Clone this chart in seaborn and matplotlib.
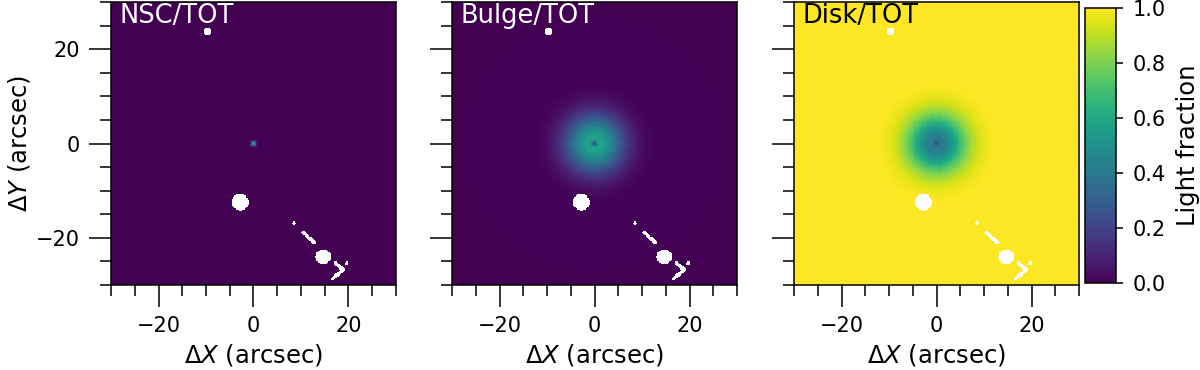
import numpy as np
import seaborn as sns
import matplotlib.pyplot as plt

# radial light fraction profiles (radius in arcsec)
radius = [0, 0.25, 0.5, 0.75, 1, 1.25, 1.5, 2, 2.5, 3, 3.5, 4, 4.5, 5, 5.5, 6, 6.5, 7, 7.5, 8, 8.5, 9, 9.5, 10, 10.5, 11, 11.5, 12, 12.5, 40]
nsc_frac = [0.62, 0.5, 0.25, 0.08, 0.02, 0.01, 0, 0, 0, 0, 0, 0, 0, 0, 0, 0, 0, 0, 0, 0, 0, 0, 0, 0, 0, 0, 0, 0, 0, 0]
bulge_frac = [0.22, 0.27, 0.42, 0.53, 0.57, 0.58, 0.58, 0.56, 0.53, 0.49, 0.45, 0.41, 0.36, 0.31, 0.27, 0.23, 0.19, 0.16, 0.13, 0.105, 0.085, 0.065, 0.05, 0.037, 0.027, 0.019, 0.013, 0.008, 0.004, 0]
disk_frac = [0.12, 0.23, 0.33, 0.39, 0.41, 0.41, 0.42, 0.44, 0.47, 0.51, 0.55, 0.59, 0.64, 0.69, 0.73, 0.77, 0.81, 0.84, 0.87, 0.895, 0.915, 0.935, 0.95, 0.963, 0.973, 0.981, 0.987, 0.992, 0.996, 1]

# masked foreground sources
blob_x = [-9.7, -2.8, 14.7, 8.5, 19.7]
blob_y = [23.8, -12.4, -24.0, -16.9, -25.4]
blob_r = [0.8, 1.75, 1.6, 0.4, 0.4]
streak_x0 = [10.5, 17.3, 18.9]
streak_y0 = [-18.9, -25.4, -26.8]
streak_x1 = [12.8, 18.9, 16.6]
streak_y1 = [-21.0, -26.8, -28.7]

titles = ['NSC/TOT', 'Bulge/TOT', 'Disk/TOT']
title_colors = ['white', 'white', 'black']
minor_vals = np.array([-30, -25, -15, -10, -5, 5, 10, 15, 25, 30])
major_vals = np.array([-20, 0, 20])
major_labels = ['\u221220', '0', '20']

cell = 0.25
centers = np.arange(-30 + cell / 2, 30, cell)
xx, yy = np.meshgrid(centers, centers[::-1])
rr = np.hypot(xx, yy)

# nearest entry of the profile for each cell
radius_arr = np.array(radius)
edges = (radius_arr[1:] + radius_arr[:-1]) / 2
idx = np.digitize(rr, edges)

mask = np.zeros(rr.shape, dtype=bool)
for x, y, r in zip(blob_x, blob_y, blob_r):
    mask |= np.hypot(xx - x, yy - y) < r
for x0, y0, x1, y1 in zip(streak_x0, streak_y0, streak_x1, streak_y1):
    dx, dy = x1 - x0, y1 - y0
    t = np.clip(((xx - x0) * dx + (yy - y0) * dy) / (dx * dx + dy * dy), 0, 1)
    mask |= np.hypot(xx - x0 - t * dx, yy - y0 - t * dy) < 0.38

fig = plt.figure(figsize=(12, 3.7), dpi=100)
W, H = 1200, 370
lefts = [111, 452, 794]
axes = [fig.add_axes([l / W, 1 - 285 / H, 285 / W, 283 / H]) for l in lefts]
cax = fig.add_axes([1085 / W, 1 - 283 / H, 31 / W, 275 / H])

for i, (ax, frac) in enumerate(zip(axes, [nsc_frac, bulge_frac, disk_frac])):
    sns.heatmap(np.array(frac)[idx], ax=ax, mask=mask, cmap='viridis', vmin=0, vmax=1,
                cbar=i == 2, cbar_ax=cax if i == 2 else None,
                xticklabels=False, yticklabels=False)
    ax.set_facecolor('white')
    for s in ax.spines.values():
        s.set_visible(True)
        s.set_linewidth(1.1)
    ax.set_xticks((major_vals + 30) / cell)
    ax.set_yticks((30 - major_vals) / cell)
    ax.set_xticks((minor_vals + 30) / cell, minor=True)
    ax.set_yticks((30 - minor_vals) / cell, minor=True)
    ax.set_xticklabels(major_labels, rotation=0)
    if i == 0:
        ax.set_yticklabels(major_labels, rotation=0)
    else:
        ax.set_yticklabels([])
    ax.tick_params(which='major', length=15.5, width=1.1, bottom=True, left=True, labelsize=15, pad=7)
    ax.tick_params(which='minor', length=8, width=1.1, bottom=True, left=True)
    ax.set_xlabel(r'$\Delta X$ (arcsec)', fontsize=17.5, labelpad=4.5)
    if i == 0:
        ax.set_ylabel(r'$\Delta Y$ (arcsec)', fontsize=17.5, labelpad=3)
    ax.text(0.03, 0.995, titles[i], transform=ax.transAxes, color=title_colors[i],
            fontsize=18.5, ha='left', va='top')

cb = axes[2].collections[0].colorbar
cb.outline.set_visible(True)
cb.outline.set_linewidth(1.1)
cb.set_ticks([0, 0.2, 0.4, 0.6, 0.8, 1.0])
cb.ax.tick_params(labelsize=15, length=5, width=1.1, pad=7)
cb.set_label('Light fraction', fontsize=17.5, labelpad=7)

fig.savefig('out.png', dpi=100)
